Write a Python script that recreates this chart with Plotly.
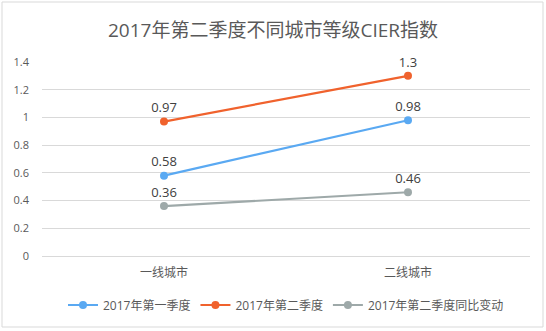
import plotly.graph_objects as go

categories = ["一线城市", "二线城市"]
q1 = [0.58, 0.98]
q2 = [0.97, 1.3]
yoy = [0.36, 0.46]
series_names = ["2017年第一季度", "2017年第二季度", "2017年第二季度同比变动"]
colors = ["#5AA9F2", "#F0622D", "#9EA9A9"]
tick_vals = [0, 0.2, 0.4, 0.6, 0.8, 1, 1.2, 1.4]
tick_text = ["0", "0.2", "0.4", "0.6", "0.8", "1", "1.2", "1.4"]

W, H = 546, 331
ml, mr, mt, mb = 42, 16, 62, 75
FONT = "Open Sans, Noto Sans CJK SC, sans-serif"

fig = go.Figure()
for name, vals, c in zip(series_names, [q1, q2, yoy], colors):
    fig.add_trace(go.Scatter(
        x=categories, y=vals, name=name, mode="lines+markers+text",
        line=dict(color=c, width=2.2), marker=dict(color=c, size=8),
        text=[f"{v:g}" for v in vals], textposition="top center",
        textfont=dict(size=13, color="#404040", family=FONT),
        cliponaxis=False,
    ))

pw = W - ml - mr
ph = H - mt - mb
fig.add_shape(type="rect", xref="paper", yref="paper",
              x0=(2 - ml) / pw, x1=(543 - ml) / pw,
              y0=(H - mb - 327) / ph, y1=(H - mb - 2) / ph,
              line=dict(color="#D9D9D9", width=1), fillcolor="rgba(0,0,0,0)", layer="below")

fig.update_layout(
    width=W, height=H, margin=dict(l=ml, r=mr, t=mt, b=mb),
    paper_bgcolor="white", plot_bgcolor="white",
    title=dict(text="2017年第二季度不同城市等级CIER指数", x=0.5, xanchor="center",
               y=1 - 30 / H, yanchor="middle",
               font=dict(size=19, color="#595959", family=FONT)),
    xaxis=dict(showgrid=False, showline=False, ticks="", zeroline=False,
               tickfont=dict(size=12, color="#595959", family=FONT), range=[-0.5, 1.5],
               ticklabelstandoff=8),
    yaxis=dict(range=[0, 1.4], tickvals=tick_vals, ticktext=tick_text, showgrid=True,
               gridcolor="#D9D9D9", gridwidth=1, zeroline=True, zerolinecolor="#D9D9D9",
               zerolinewidth=1, showline=False,
               tickfont=dict(size=11, color="#595959", family=FONT), ticklabelstandoff=12),
    legend=dict(orientation="h", x=0.5, xanchor="center", y=-(305 - (H - mb)) / ph,
                yanchor="middle", font=dict(size=12, color="#595959", family=FONT),
                itemwidth=30, entrywidthmode="pixels"),
    showlegend=True,
)
fig.write_html("out.html")
